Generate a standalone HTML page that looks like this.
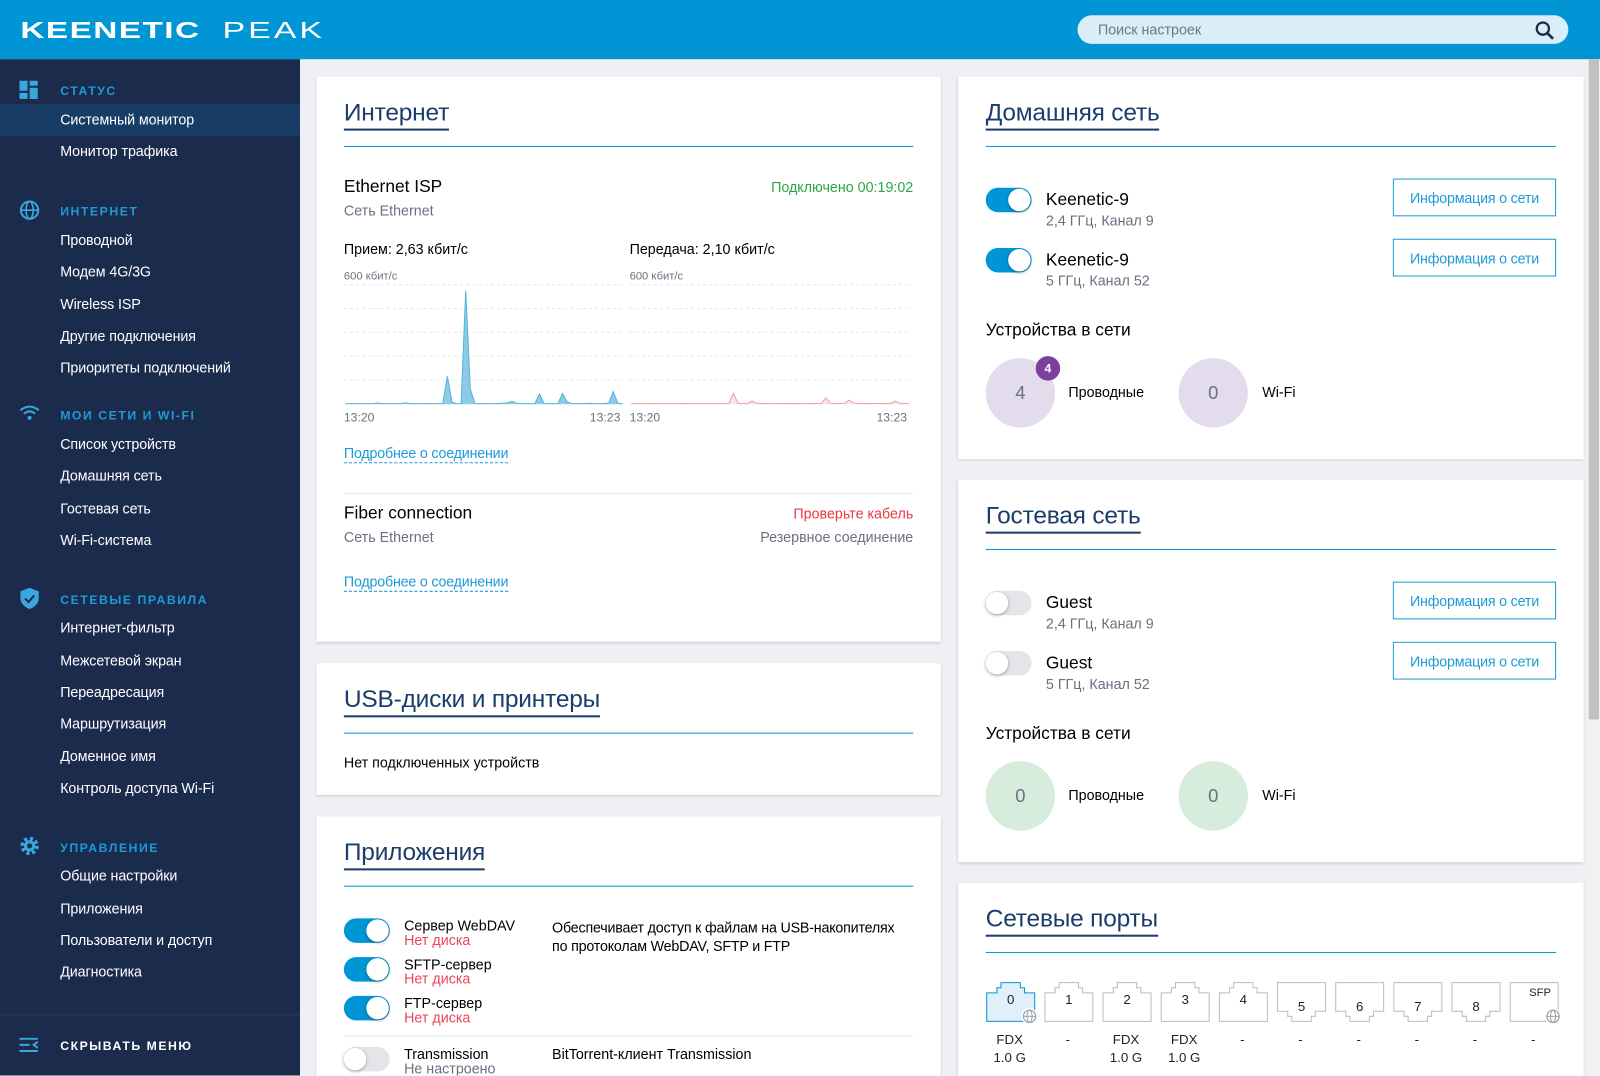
<!DOCTYPE html>
<html><head><meta charset="utf-8">
<style>
html,body{margin:0;padding:0;width:1600px;height:1075px;overflow:hidden;background:#eef0f3}
#root{position:absolute;left:0;top:0;width:1568px;height:1054px;transform:scale(1.0204);transform-origin:0 0;font-family:"Liberation Sans",sans-serif;background:#eef0f3;overflow:hidden}
.t{position:absolute;white-space:nowrap;line-height:1}
.card{position:absolute;background:#fff;box-shadow:0 1px 3px rgba(0,0,0,.18)}
.ttl{position:absolute;font-size:24px;color:#1a3d6b;line-height:1;white-space:nowrap;padding-bottom:3px;border-bottom:2px solid #1a3d6b;letter-spacing:-0.2px}
.hl{position:absolute;height:1px;background:#0096d6}
.dv{position:absolute;height:1px;background:#e6e8ec}
.sec{position:absolute;left:59px;font-size:12px;font-weight:bold;letter-spacing:1.5px;color:#1e9ad6;line-height:1}
.it{position:absolute;left:59px;font-size:14px;color:#fff;line-height:1;white-space:nowrap;letter-spacing:-0.1px}
.ic{position:absolute;left:19px}
.tg{position:absolute;width:45px;height:24px;border-radius:12px;background:#0096d6}
.tg::after{content:"";position:absolute;top:1px;right:1px;width:22px;height:22px;border-radius:50%;background:#fff;box-shadow:0 1px 3px rgba(0,0,0,.35)}
.tg.off{background:#e3e5e8}
.tg.off::after{right:auto;left:0}
.btn{position:absolute;width:158px;height:37px;border:1px solid #1e9ad6;color:#1e9ad6;font-size:14px;text-align:center;line-height:37px;box-sizing:border-box;letter-spacing:-0.2px}
.lnk{position:absolute;font-size:14px;color:#1e9ad6;border-bottom:1px dashed #1e9ad6;line-height:1;padding-bottom:2px;white-space:nowrap;letter-spacing:-0.2px}
.circ{position:absolute;width:68px;height:68px;border-radius:50%;font-size:18px;color:#6b7080;text-align:center;line-height:68px}
.g{color:#6b7080}
</style></head><body>
<div id="root">
<div style="position:absolute;left:0;top:0;width:1568px;height:58px;background:#0096d6">
  <div class="t" style="left:20px;top:18px;font-size:23px;font-weight:bold;color:#fff;letter-spacing:1px;transform:scaleX(1.42);transform-origin:0 0">KEENETIC</div>
  <div class="t" style="left:218px;top:18px;font-size:23px;color:#fff;letter-spacing:2px;transform:scaleX(1.45);transform-origin:0 0">PEAK</div>
  <div style="position:absolute;left:1056px;top:15px;width:481px;height:28px;border-radius:14px;background:#d9eef9">
    <div class="t" style="left:20px;top:7px;font-size:14px;color:#6d7884">Поиск настроек</div>
    <svg style="position:absolute;left:448px;top:5px" width="20" height="20" viewBox="0 0 20 20"><circle cx="8" cy="8" r="6" fill="none" stroke="#1a2b4c" stroke-width="2.2"/><line x1="12.5" y1="12.5" x2="18" y2="18" stroke="#1a2b4c" stroke-width="2.6"/></svg>
  </div>
</div>
<div style="position:absolute;left:0;top:58px;width:294px;height:996px;background:#1a2b4c">
  <div style="position:absolute;left:0;top:44px;width:294px;height:31px;background:#173d66"></div>
</div>
<div style="position:absolute;left:0;top:0;width:294px;height:1054px">
  <svg class="ic" style="top:79px" width="20" height="18"><rect x="0" y="0" width="8" height="10" fill="#3aa6de"/><rect x="10" y="0" width="8" height="5" fill="#3aa6de"/><rect x="10" y="7" width="8" height="11" fill="#3aa6de"/><rect x="0" y="12" width="8" height="6" fill="#3aa6de"/></svg>
  <div class="sec" style="top:83px">СТАТУС</div>
  <div class="it" style="top:110px">Системный монитор</div>
  <div class="it" style="top:141px">Монитор трафика</div>
  <svg class="ic" style="top:196px" width="20" height="20"><circle cx="10" cy="10" r="8.5" fill="none" stroke="#3aa6de" stroke-width="2"/><ellipse cx="10" cy="10" rx="3.5" ry="8.5" fill="none" stroke="#3aa6de" stroke-width="1.6"/><line x1="1.5" y1="10" x2="18.5" y2="10" stroke="#3aa6de" stroke-width="1.6"/></svg>
  <div class="sec" style="top:201px">ИНТЕРНЕТ</div>
  <div class="it" style="top:228px">Проводной</div>
  <div class="it" style="top:259px">Модем 4G/3G</div>
  <div class="it" style="top:291px">Wireless ISP</div>
  <div class="it" style="top:322px">Другие подключения</div>
  <div class="it" style="top:353px">Приоритеты подключений</div>
  <svg class="ic" style="top:397px" width="20" height="16"><path d="M1 5 Q10 -2 19 5" fill="none" stroke="#3aa6de" stroke-width="2"/><path d="M4.5 8.5 Q10 4 15.5 8.5" fill="none" stroke="#3aa6de" stroke-width="2"/><circle cx="10" cy="12.5" r="2" fill="#3aa6de"/></svg>
  <div class="sec" style="top:401px">МОИ СЕТИ И WI-FI</div>
  <div class="it" style="top:428px">Список устройств</div>
  <div class="it" style="top:459px">Домашняя сеть</div>
  <div class="it" style="top:491px">Гостевая сеть</div>
  <div class="it" style="top:522px">Wi-Fi-система</div>
  <svg class="ic" style="top:576px" width="20" height="21"><path d="M10 0 L19 3.5 V10 Q19 17 10 21 Q1 17 1 10 V3.5 Z" fill="#3aa6de"/><path d="M5.5 10.5 L9 14 L14.5 7.5" fill="none" stroke="#1a2b4c" stroke-width="2"/></svg>
  <div class="sec" style="top:582px">СЕТЕВЫЕ ПРАВИЛА</div>
  <div class="it" style="top:608px">Интернет-фильтр</div>
  <div class="it" style="top:640px">Межсетевой экран</div>
  <div class="it" style="top:671px">Переадресация</div>
  <div class="it" style="top:702px">Маршрутизация</div>
  <div class="it" style="top:734px">Доменное имя</div>
  <div class="it" style="top:765px">Контроль доступа Wi-Fi</div>
  <svg class="ic" style="top:819px" width="20" height="20"><circle cx="10" cy="10" r="7" fill="none" stroke="#3aa6de" stroke-width="4" stroke-dasharray="3 2.5"/><circle cx="10" cy="10" r="5.5" fill="#3aa6de"/><circle cx="10" cy="10" r="2.5" fill="#1a2b4c"/></svg>
  <div class="sec" style="top:825px">УПРАВЛЕНИЕ</div>
  <div class="it" style="top:851px">Общие настройки</div>
  <div class="it" style="top:883px">Приложения</div>
  <div class="it" style="top:914px">Пользователи и доступ</div>
  <div class="it" style="top:945px">Диагностика</div>
  <div style="position:absolute;left:0;top:994px;width:294px;height:1px;background:#2c3d5e"></div>
  <svg class="ic" style="top:1017px" width="20" height="14"><line x1="0" y1="1" x2="18" y2="1" stroke="#3aa6de" stroke-width="2"/><line x1="0" y1="7" x2="10" y2="7" stroke="#3aa6de" stroke-width="2"/><line x1="0" y1="13" x2="18" y2="13" stroke="#3aa6de" stroke-width="2"/><path d="M18 4 L14 7 L18 10" fill="none" stroke="#3aa6de" stroke-width="2"/></svg>
  <div class="sec" style="top:1019px;color:#fff">СКРЫВАТЬ МЕНЮ</div>
</div>

<div style="position:absolute;left:1556px;top:58px;width:12px;height:996px;background:#f1f1f1"></div>
<div style="position:absolute;left:1557px;top:58px;width:10px;height:647px;background:#c1c1c1"></div>

<div class="card" style="left:310px;top:75px;width:612px;height:554px">
  <div class="ttl" style="left:27px;top:24px">Интернет</div>
  <div class="hl" style="left:27px;top:68px;width:558px"></div>
  <div class="t" style="left:27px;top:99px;font-size:17px">Ethernet ISP</div>
  <div class="t g" style="left:27px;top:124px;font-size:14px">Сеть Ethernet</div>
  <div class="t" style="right:27px;top:101px;font-size:14px;color:#2aa745">Подключено 00:19:02</div>
  <div class="t" style="left:27px;top:162px;font-size:14px">Прием: 2,63 кбит/с</div>
  <div class="t" style="left:307px;top:162px;font-size:14px">Передача: 2,10 кбит/с</div>
  <div class="lnk" style="left:27px;top:362px">Подробнее о соединении</div>
  <div class="dv" style="left:27px;top:408px;width:558px"></div>
  <div class="t" style="left:27px;top:419px;font-size:17px">Fiber connection</div>
  <div class="t g" style="left:27px;top:444px;font-size:14px">Сеть Ethernet</div>
  <div class="t" style="right:27px;top:421px;font-size:14px;color:#e8373f">Проверьте кабель</div>
  <div class="t g" style="right:27px;top:444px;font-size:14px">Резервное соединение</div>
  <div class="lnk" style="left:27px;top:488px">Подробнее о соединении</div>
</div>
<svg id="charts" style="position:absolute;left:0;top:0" width="1568" height="1054"></svg>

<div class="card" style="left:310px;top:650px;width:612px;height:129px">
  <div class="ttl" style="left:27px;top:24px">USB-диски и принтеры</div>
  <div class="hl" style="left:27px;top:68px;width:558px"></div>
  <div class="t" style="left:27px;top:90px;font-size:14px">Нет подключенных устройств</div>
</div>

<div class="card" style="left:310px;top:800px;width:612px;height:280px">
  <div class="ttl" style="left:27px;top:24px">Приложения</div>
  <div class="hl" style="left:27px;top:68px;width:558px"></div>
  <div class="tg" style="left:27px;top:100px"></div>
  <div class="t" style="left:86px;top:100px;font-size:14px">Сервер WebDAV</div>
  <div class="t" style="left:86px;top:114px;font-size:14px;color:#e8465a">Нет диска</div>
  <div class="t" style="left:231px;top:100px;font-size:14px;line-height:18px;letter-spacing:-0.2px">Обеспечивает доступ к файлам на USB-накопителях<br>по протоколам WebDAV, SFTP и FTP</div>
  <div class="tg" style="left:27px;top:138px"></div>
  <div class="t" style="left:86px;top:138px;font-size:14px">SFTP-сервер</div>
  <div class="t" style="left:86px;top:152px;font-size:14px;color:#e8465a">Нет диска</div>
  <div class="tg" style="left:27px;top:176px"></div>
  <div class="t" style="left:86px;top:176px;font-size:14px">FTP-сервер</div>
  <div class="t" style="left:86px;top:190px;font-size:14px;color:#e8465a">Нет диска</div>
  <div class="dv" style="left:27px;top:215px;width:558px"></div>
  <div class="tg off" style="left:27px;top:226px"></div>
  <div class="t" style="left:86px;top:226px;font-size:14px">Transmission</div>
  <div class="t g" style="left:86px;top:240px;font-size:14px">Не настроено</div>
  <div class="t" style="left:231px;top:226px;font-size:14px">BitTorrent-клиент Transmission</div>
</div>

<div class="card" style="left:939px;top:75px;width:613px;height:375px">
  <div class="ttl" style="left:27px;top:24px">Домашняя сеть</div>
  <div class="hl" style="left:27px;top:68px;width:559px"></div>
  <div class="tg" style="left:27px;top:109px"></div>
  <div class="t" style="left:86px;top:112px;font-size:17px">Keenetic-9</div>
  <div class="t g" style="left:86px;top:134px;font-size:14px">2,4 ГГц, Канал 9</div>
  <div class="btn" style="left:426px;top:100px;width:160px">Информация о сети</div>
  <div class="tg" style="left:27px;top:168px"></div>
  <div class="t" style="left:86px;top:171px;font-size:17px">Keenetic-9</div>
  <div class="t g" style="left:86px;top:193px;font-size:14px">5 ГГц, Канал 52</div>
  <div class="btn" style="left:426px;top:159px;width:160px">Информация о сети</div>
  <div class="t" style="left:27px;top:240px;font-size:17px">Устройства в сети</div>
  <div class="circ" style="left:27px;top:276px;background:#e3dcec">4</div>
  <div class="t" style="left:76px;top:274px;width:24px;height:24px;border-radius:50%;background:#7b3f9e;color:#fff;font-size:12px;font-weight:bold;text-align:center;line-height:24px">4</div>
  <div class="t" style="left:108px;top:302px;font-size:14px">Проводные</div>
  <div class="circ" style="left:216px;top:276px;background:#e3dcec">0</div>
  <div class="t" style="left:298px;top:302px;font-size:14px">Wi-Fi</div>
</div>

<div class="card" style="left:939px;top:470px;width:613px;height:375px">
  <div class="ttl" style="left:27px;top:24px">Гостевая сеть</div>
  <div class="hl" style="left:27px;top:68px;width:559px"></div>
  <div class="tg off" style="left:27px;top:109px"></div>
  <div class="t" style="left:86px;top:112px;font-size:17px">Guest</div>
  <div class="t g" style="left:86px;top:134px;font-size:14px">2,4 ГГц, Канал 9</div>
  <div class="btn" style="left:426px;top:100px;width:160px">Информация о сети</div>
  <div class="tg off" style="left:27px;top:168px"></div>
  <div class="t" style="left:86px;top:171px;font-size:17px">Guest</div>
  <div class="t g" style="left:86px;top:193px;font-size:14px">5 ГГц, Канал 52</div>
  <div class="btn" style="left:426px;top:159px;width:160px">Информация о сети</div>
  <div class="t" style="left:27px;top:240px;font-size:17px">Устройства в сети</div>
  <div class="circ" style="left:27px;top:276px;background:#d6ecdc">0</div>
  <div class="t" style="left:108px;top:302px;font-size:14px">Проводные</div>
  <div class="circ" style="left:216px;top:276px;background:#d6ecdc">0</div>
  <div class="t" style="left:298px;top:302px;font-size:14px">Wi-Fi</div>
</div>

<div class="card" style="left:939px;top:865px;width:613px;height:220px">
  <div class="ttl" style="left:27px;top:24px">Сетевые порты</div>
  <div class="hl" style="left:27px;top:68px;width:559px"></div>
</div>
<svg id="ports" style="position:absolute;left:0;top:0" width="1568" height="1054"></svg>
</div>

<script>
const rxValues = [2,2,2,2,2,2,3,5,2,2,2,2,3,6,2,2,2,2,2,2,2,2,140,10,2,3,570,76,2,2,2,2,2,3,4,6,14,4,2,2,2,3,51,3,2,2,3,54,12,2,2,2,3,4,2,2,2,5,63,4,2];
const txValues = [2,2,2,2,2,2,2,2,2,2,2,3,3,2,2,2,2,2,2,2,2,3,54,4,3,3,15,4,3,3,2,2,3,3,3,2,3,2,2,3,3,3,32,4,3,3,3,20,5,3,3,3,3,3,3,3,3,15,4,3,2];
const timeTicks = ["13:20","13:23"];
const yMaxLabel = "600 кбит/с";
const yMax = 600;
const gridCount = 5;

const NS = "http://www.w3.org/2000/svg";
const svg = document.getElementById('charts');
function mk(tag, attrs, parent){const e=document.createElementNS(NS,tag);for(const k in attrs)e.setAttribute(k,attrs[k]);(parent||svg).appendChild(e);return e;}
function drawChart(x0, x1, vals, stroke, fill, name){
  const top=279, base=396;
  const yScale=v=>base-(v/yMax)*(base-top);
  const xScale=i=>x0+i*(x1-x0)/(vals.length-1);
  const g=mk('g',{});
  
  
  for(let k=0;k<=gridCount;k++){
    const y=top+k*(base-top)/gridCount;
    const l=mk('line',{x1:x0-2,x2:x1,y1:y,y2:y,stroke:'#e8e9ec','stroke-dasharray':'3 3','stroke-width':1},g);
    
    
  }
  let d='M'+xScale(0)+' '+base;
  vals.forEach((v,i)=>{d+=' L'+xScale(i).toFixed(1)+' '+yScale(v).toFixed(1);});
  d+=' L'+xScale(vals.length-1)+' '+base+' Z';
  const a=mk('path',{d:d,fill:fill,stroke:'none'},g);
  
  
  let ld='';
  vals.forEach((v,i)=>{ld+=(i?' L':'M')+xScale(i).toFixed(1)+' '+yScale(v).toFixed(1);});
  const ln=mk('path',{d:ld,fill:'none',stroke:stroke,'stroke-width':1},g);
  
  
  const yl=mk('text',{x:x0-2,y:274,'font-size':11,fill:'#6b7080','font-family':'Liberation Sans, sans-serif'},g);
  yl.textContent=yMaxLabel;
  
  
  const t0=mk('text',{x:x0-2,y:413,'font-size':12,fill:'#6b7080','font-family':'Liberation Sans, sans-serif'},g);
  t0.textContent=timeTicks[0];
  
  
  const t1=mk('text',{x:x1-2,y:413,'font-size':12,fill:'#6b7080','text-anchor':'end','font-family':'Liberation Sans, sans-serif'},g);
  t1.textContent=timeTicks[timeTicks.length-1];
  
  
}
drawChart(339, 610, rxValues, '#55b4dc', '#8ccbe6', 'rx-chart');
drawChart(619, 891, txValues, '#f3a0a8', '#fde3e5', 'tx-chart');

const portNames = ["0","1","2","3","4","5","6","7","8","SFP"];
const portDuplex = ["FDX","-","FDX","FDX","-","-","-","-","-","-"];
const portSpeed = ["1.0 G","","1.0 G","1.0 G","","","","","",""];
const psvg=document.getElementById('ports');
portNames.forEach((n,i)=>{
  const x=967+i*57, y=963, w=47, h=38;
  const g=mk('g',{},psvg);
  
  
  const active=i===0;
  let d;
  if(n==='SFP'){ d=`M${x} ${y} H${x+w} V${y+h} H${x} Z`; }
  else if(i<=4){ d=`M${x} ${y+10} H${x+10} V${y+5} H${x+14} V${y} H${x+33} V${y+5} H${x+37} V${y+10} H${x+w} V${y+h} H${x} Z`; }
  else { d=`M${x} ${y} H${x+w} V${y+h-10} H${x+37} V${y+h-5} H${x+33} V${y+h} H${x+14} V${y+h-5} H${x+10} V${y+h-10} H${x} Z`; }
  mk('path',{d:d,fill:active?'#e0eff9':'#fff',stroke:active?'#0096d6':'#b8bcc4','stroke-width':1},g);
  const ty = n==='SFP'? y+13 : (i<=4? y+21 : y+28);
  const tx=mk('text',{x:n==='SFP'?x+w-7:x+w/2,y:ty,'font-size':n==='SFP'?11:13,'text-anchor':n==='SFP'?'end':'middle',fill:'#222','font-family':'Liberation Sans, sans-serif'},g);
  tx.textContent=n;
  if(i===0||n==='SFP'){
    const cx=x+w-5, cy=y+h-5;
    mk('circle',{cx:cx,cy:cy,r:8,fill:'#fff'},g);
    mk('circle',{cx:cx,cy:cy,r:6,fill:'none',stroke:'#9aa0aa','stroke-width':1.2},g);
    mk('ellipse',{cx:cx,cy:cy,rx:2.5,ry:6,fill:'none',stroke:'#9aa0aa','stroke-width':1},g);
    mk('line',{x1:cx-6,x2:cx+6,y1:cy,y2:cy,stroke:'#9aa0aa','stroke-width':1},g);
  }
  const l1=mk('text',{x:x+w/2-1,y:1023,'font-size':13,'text-anchor':'middle',fill:'#222','font-family':'Liberation Sans, sans-serif'},psvg);
  l1.textContent=portDuplex[i];
  
  
  if(portSpeed[i]){
    const l2=mk('text',{x:x+w/2-1,y:1041,'font-size':13,'text-anchor':'middle',fill:'#222','font-family':'Liberation Sans, sans-serif'},psvg);
    l2.textContent=portSpeed[i];
    
    
  }
});
</script>
</body></html>
